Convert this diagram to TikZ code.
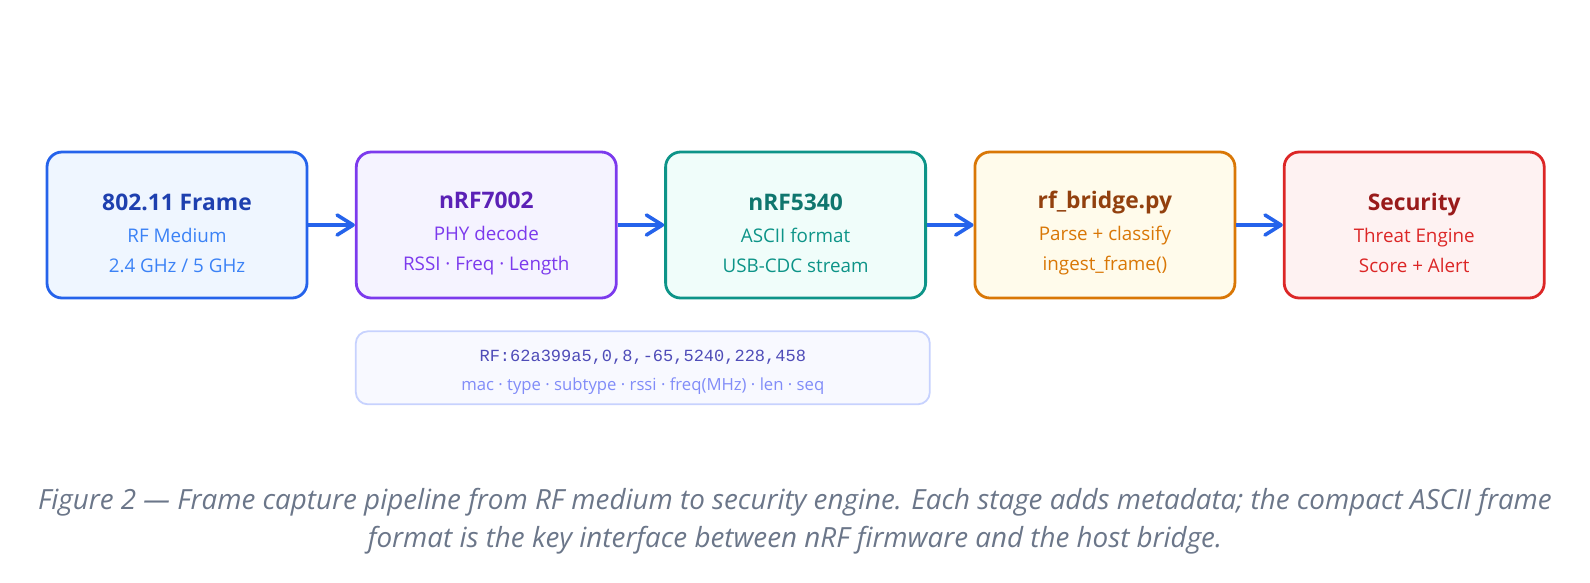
\documentclass[tikz,border=0pt]{standalone}
\usepackage{fontspec}
\setmainfont{Open Sans}
\setmonofont{Liberation Mono}
\usetikzlibrary{positioning,arrows.meta}
\definecolor{blueedge}{HTML}{2563EB}
\definecolor{bluefill}{HTML}{EFF6FF}
\definecolor{bluehead}{HTML}{1E40AF}
\definecolor{bluetext}{HTML}{3B82F6}
\definecolor{violetedge}{HTML}{7C3AED}
\definecolor{violetfill}{HTML}{F5F3FF}
\definecolor{violethead}{HTML}{5B21B6}
\definecolor{violettext}{HTML}{7C3AED}
\definecolor{tealedge}{HTML}{0D9488}
\definecolor{tealfill}{HTML}{F0FDFA}
\definecolor{tealhead}{HTML}{0F766E}
\definecolor{tealtext}{HTML}{0D9488}
\definecolor{amberedge}{HTML}{D97706}
\definecolor{amberfill}{HTML}{FFFBEB}
\definecolor{amberhead}{HTML}{92400E}
\definecolor{ambertext}{HTML}{D97706}
\definecolor{rededge}{HTML}{DC2626}
\definecolor{redfill}{HTML}{FEF2F2}
\definecolor{redhead}{HTML}{991B1B}
\definecolor{redtext}{HTML}{DC2626}
\definecolor{fmtedge}{HTML}{C7D2FE}
\definecolor{fmtfill}{HTML}{F8F9FF}
\definecolor{fmtcode}{HTML}{4F4CB8}
\definecolor{fmtnote}{HTML}{818CF8}
\definecolor{captiongray}{HTML}{6B7689}
\newcommand{\headsize}{\rule{0pt}{33pt}\fontsize{22.8}{30}\selectfont\bfseries}

\begin{document}
\begin{tikzpicture}[
    stage/.style={draw,line width=2.8pt,rounded corners=15pt,minimum width=260pt,
      minimum height=146pt,align=center,inner sep=0pt,
      font=\fontsize{18.8}{29.5}\selectfont},
    flow/.style={draw=blueedge,line width=3.6pt,-{Straight Barb[length=16pt,width=20pt,round]}},
    node distance=46.5pt]
    \useasboundingbox (0pt,0pt) rectangle (1590pt,-582pt);

    % pipeline stages
    \node[stage,draw=blueedge,fill=bluefill,text=bluetext] (frame) at (177pt,-225pt)
      {{\headsize\color{bluehead}802.11 Frame}\\[3pt]RF Medium\\2.4 GHz / 5 GHz};
    \node[stage,draw=violetedge,fill=violetfill,text=violettext,right=of frame] (nrf7002)
      {{\headsize\color{violethead}nRF7002}\\[3pt]PHY decode\\RSSI · Freq · Length};
    \node[stage,draw=tealedge,fill=tealfill,text=tealtext,right=of nrf7002] (nrf5340)
      {{\headsize\color{tealhead}nRF5340}\\[3pt]ASCII format\\USB-CDC stream};
    \node[stage,draw=amberedge,fill=amberfill,text=ambertext,right=of nrf5340] (bridge)
      {{\headsize\color{amberhead}rf\_bridge.py}\\[3pt]Parse + classify\\ingest\_frame()};
    \node[stage,draw=rededge,fill=redfill,text=redtext,right=of bridge] (security)
      {{\headsize\color{redhead}Security}\\[3pt]Threat Engine\\Score + Alert};

    % arrows
    \draw[flow] (frame) -- (nrf7002);
    \draw[flow] (nrf7002) -- (nrf5340);
    \draw[flow] (nrf5340) -- (bridge);
    \draw[flow] (bridge) -- (security);

    % frame format
    \node[draw=fmtedge,fill=fmtfill,line width=1.8pt,rounded corners=12pt,
      minimum width=574pt,minimum height=73pt,inner sep=0pt,align=center,
      text=fmtnote,font=\fontsize{16.7}{29.5}\selectfont,
      below=31pt of nrf7002.south west,anchor=north west] (format)
      {{\rule{0pt}{20pt}\fontsize{17}{29.5}\selectfont\ttfamily\color{fmtcode}RF:62a399a5,0,8,-65,5240,228,458}\\
       mac · type · subtype · rssi · freq(MHz) · len · seq};

    % caption
    \node[align=center,text=captiongray,font=\fontsize{27.8}{38}\selectfont\itshape] (caption) at (795pt,-521pt)
      {Figure 2 — Frame capture pipeline from RF medium to security engine. Each stage adds metadata; the compact ASCII frame\\
       format is the key interface between nRF firmware and the host bridge.};
\end{tikzpicture}
\end{document}
